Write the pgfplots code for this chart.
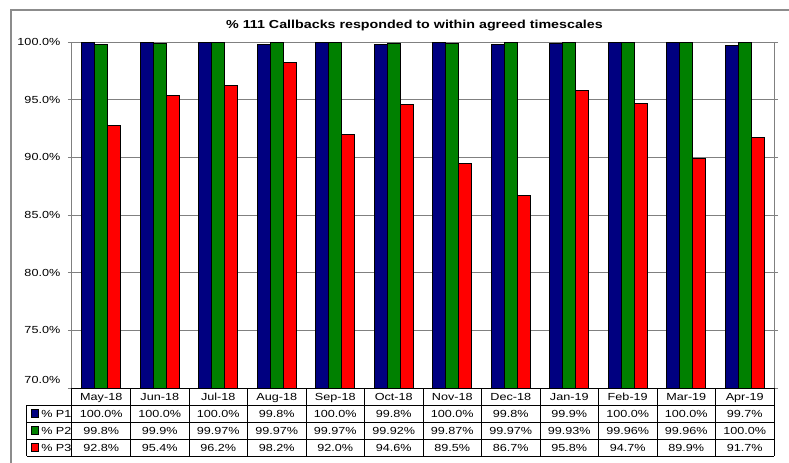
\documentclass[border=0pt]{standalone}
\usepackage{fontspec}
\setmainfont{Liberation Sans}[FakeStretch=1.23]
\usepackage{pgfplots}
\usepackage{pgfplotstable}
\pgfplotsset{compat=1.18}

\definecolor{pone}{RGB}{0,0,128}
\definecolor{ptwo}{RGB}{0,128,0}
\definecolor{pthree}{RGB}{255,0,0}
\definecolor{gridgray}{RGB}{128,128,128}
\definecolor{framegray}{RGB}{140,140,140}

% monthly percentages of callbacks answered in time, by priority
\pgfplotstableread{
month  p1    p2     p3
May-18 100.0 99.8   92.8
Jun-18 100.0 99.9   95.4
Jul-18 100.0 99.97  96.2
Aug-18 99.8  99.97  98.2
Sep-18 100.0 99.97  92.0
Oct-18 99.8  99.92  94.6
Nov-18 100.0 99.87  89.5
Dec-18 99.8  99.97  86.7
Jan-19 99.9  99.93  95.8
Feb-19 100.0 99.96  94.7
Mar-19 100.0 99.96  89.9
Apr-19 99.7  100.0  91.7
}\data

\newcommand\lbl{\fontsize{7.7}{9}\selectfont}

\begin{document}
\begin{tikzpicture}
\begin{axis}[
  scale only axis,
  width=526.5pt, height=259.5pt,
  at={(0,0)}, anchor=south west,
  xmin=-0.5, xmax=11.5,
  ymin=70, ymax=100,
  ybar=0pt, bar width=9.75pt,
  xtick={0,...,11},
  xticklabels from table={\data}{month},
  xtick style={draw=none},
  x tick label style={anchor=base, yshift=-6.5pt},
  ytick={70,75,...,100},
  ytick style={gridgray, line width=0.75pt},
  tick align=outside, major tick length=3pt,
  ymajorgrids,
  grid style={gridgray, line width=0.75pt},
  axis line style={gridgray, line width=0.75pt},
  tick label style={font=\lbl},
  % the lowest label sits a little higher, clear of the data table
  yticklabel={\ifdim\tick pt<71pt
      \raisebox{6pt}[\height][\depth]{\pgfmathprintnumber{\tick}\%}%
    \else\pgfmathprintnumber{\tick}\%\fi},
  y tick label style={xshift=-2.25pt, /pgf/number format/.cd, fixed, fixed zerofill, precision=1, assume math mode=true},
]
\addplot[fill=pone, draw=black, line width=0.6pt] table[x expr=\coordindex, y=p1]{\data};
\addplot[fill=ptwo, draw=black, line width=0.6pt] table[x expr=\coordindex, y=p2]{\data};
\addplot[fill=pthree, draw=black, line width=0.6pt] table[x expr=\coordindex, y=p3]{\data};
\end{axis}

\begin{scope}[x=0.75pt, y=0.75pt]
  \useasboundingbox (-72,-74) rectangle (717,388);
  % outer chart frame
  \draw[framegray, line width=1pt] (-61,-80) -- (-61,378) -- (730,378);
  % title
  \node[anchor=base, font=\fontsize{8.7}{10}\selectfont\bfseries] at (342.5,359.7)
    {\% 111 Callbacks responded to within agreed timescales};
  % data table grid
  \draw[black, line width=0.75pt] (0,0) -- (702,0);
  \foreach \r in {-17,-34,-51,-68} \draw[black, line width=0.75pt] (-45,\r) -- (702,\r);
  \foreach \k in {0,...,12} \draw[black, line width=0.75pt] (58.5*\k,0) -- (58.5*\k,-68);
  \draw[black, line width=0.75pt] (-45,-17) -- (-45,-68);
  % legend keys
  \foreach \c/\n/\r in {pone/1/-25.5, ptwo/2/-42.5, pthree/3/-59.5} {
    \draw[fill=\c, draw=black, line width=0.6pt] (-41,\r-3.7) rectangle (-33.5,\r+3.7);
    \node[anchor=west, inner sep=0pt, font=\lbl] at (-31,\r) {\% P\n};
  }
  % table values
  \foreach \i in {0,...,11} {
    \pgfplotstablegetelem{\i}{p1}\of\data \let\va\pgfplotsretval
    \node[font=\lbl, inner sep=0pt] at (58.5*\i+29.25,-25.5) {\va\%};
    \pgfplotstablegetelem{\i}{p2}\of\data \let\vb\pgfplotsretval
    \node[font=\lbl, inner sep=0pt] at (58.5*\i+29.25,-42.5) {\vb\%};
    \pgfplotstablegetelem{\i}{p3}\of\data \let\vc\pgfplotsretval
    \node[font=\lbl, inner sep=0pt] at (58.5*\i+29.25,-59.5) {\vc\%};
  }
\end{scope}
\end{tikzpicture}
\end{document}
